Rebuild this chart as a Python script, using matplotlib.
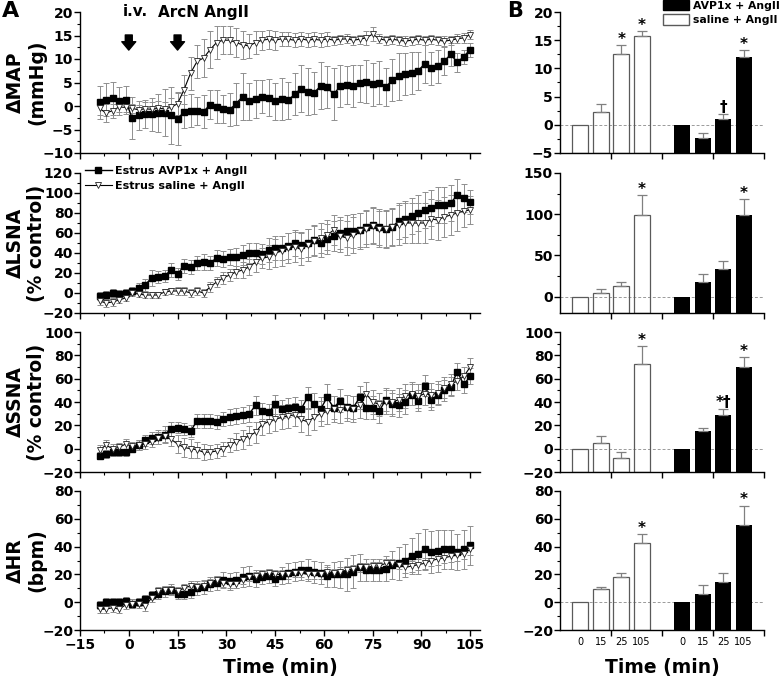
import matplotlib.pyplot as plt
import numpy as np
from matplotlib.ticker import MultipleLocator
from matplotlib.patches import Patch

plt.rcParams['font.family'] = 'DejaVu Sans'
plt.rcParams['font.weight'] = 'bold'
plt.rcParams['axes.linewidth'] = 1.0

# ---- A: time course (2-min bins) ----
time = np.arange(-9, 106, 2)

map_avp = [0.8, 1.3, 1.6, 1.1, 1.2, -2.5, -2.0, -1.7, -1.8, -1.5,
           -1.4, -2.0, -2.8, -1.2, -1.0, -1.0, -1.2, 0.3, -0.2, -0.6,
           -0.8, 0.5, 2.0, 1.0, 1.5, 2.0, 1.8, 1.0, 1.5, 1.2,
           2.5, 3.7, 3.0, 2.8, 4.3, 4.0, 2.5, 4.2, 4.5, 4.3,
           4.8, 5.2, 4.6, 5.0, 4.0, 5.5, 6.3, 6.8, 7.0, 7.5,
           9.0, 8.0, 8.5, 9.5, 11.0, 9.3, 10.5, 12.0]
map_avp_err = [3.5, 3.5, 3.5, 3.0, 3.0, 4.5, 3.0, 3.0, 3.5, 4.0,
               5.0, 6.0, 5.5, 3.5, 3.5, 3.0, 3.5, 3.0, 3.5, 3.0,
               3.5, 4.5, 5.0, 4.0, 4.0, 3.5, 4.0, 4.0, 4.5, 4.0,
               4.5, 5.0, 5.0, 4.5, 5.0, 4.5, 5.5, 4.5, 4.0, 4.5,
               4.0, 4.5, 4.5, 4.5, 4.0, 4.5, 5.0, 4.5, 4.5, 4.0,
               4.0, 3.5, 3.5, 3.0, 2.5, 2.0, 1.5, 1.5]
map_sal = [-0.5, -1.5, -1.0, -0.2, -0.3, -0.5, -0.8, -0.6, -0.7, -0.5,
           -0.6, -0.3, 0.5, 3.5, 7.0, 9.5, 10.2, 12.0, 13.5, 14.0,
           14.0, 13.5, 13.0, 12.8, 13.5, 14.0, 14.2, 14.0, 14.3, 14.2,
           14.0, 14.3, 14.0, 14.2, 14.0, 14.3, 14.0, 14.2, 14.3, 14.0,
           14.2, 14.5, 15.3, 14.3, 14.0, 14.2, 14.0, 13.8, 14.0, 14.2,
           14.0, 14.2, 14.0, 13.8, 14.0, 14.3, 14.5, 15.2]
map_sal_err = [1.5, 2.0, 1.5, 1.0, 1.0, 1.0, 1.0, 1.5, 1.5, 1.5,
               1.5, 2.0, 2.5, 3.0, 3.5, 3.5, 4.0, 4.0, 3.5, 3.0,
               3.0, 3.0, 3.0, 2.5, 2.5, 2.0, 2.0, 2.0, 1.5, 1.5,
               1.5, 1.5, 1.5, 1.5, 1.5, 1.5, 1.0, 1.0, 1.0, 1.0,
               1.0, 1.5, 1.5, 1.0, 1.0, 1.0, 1.0, 1.0, 1.0, 1.0,
               1.0, 1.0, 1.0, 1.0, 1.0, 1.0, 1.0, 1.0]

lsna_avp = [-3, -2, 0, -1, 0, 2, 5, 8, 15, 16,
            17, 23, 19, 27, 26, 30, 31, 30, 35, 34,
            36, 36, 38, 40, 40, 39, 43, 45, 45, 47,
            50, 48, 50, 53, 50, 54, 57, 60, 62, 62,
            63, 66, 68, 66, 64, 66, 72, 74, 77, 80,
            83, 85, 88, 88, 90, 98, 95, 91]
lsna_avp_err = [4, 4, 4, 4, 4, 4, 5, 6, 8, 6,
                6, 7, 6, 7, 7, 7, 8, 7, 8, 8,
                8, 9, 10, 10, 10, 10, 12, 12, 12, 13,
                13, 13, 14, 15, 14, 15, 15, 16, 16, 17,
                17, 17, 18, 18, 18, 18, 18, 18, 18, 18,
                18, 18, 18, 18, 18, 16, 14, 12]
lsna_sal = [-8, -10, -9, -7, -5, 0, -1, -2, -2, -2,
            1, 2, 2, 2, 0, 2, 0, 6, 11, 15,
            18, 21, 23, 26, 31, 35, 36, 40, 42, 45,
            46, 44, 48, 52, 55, 58, 63, 57, 55, 58,
            62, 64, 67, 64, 64, 66, 68, 70, 70, 70,
            70, 74, 73, 76, 78, 80, 82, 83]
lsna_sal_err = [4, 4, 4, 3, 3, 3, 3, 3, 3, 3,
                3, 3, 4, 4, 4, 4, 4, 5, 5, 6,
                6, 6, 8, 8, 10, 10, 12, 14, 15, 15,
                15, 16, 16, 15, 15, 15, 15, 16, 17, 18,
                18, 18, 18, 18, 19, 19, 20, 20, 20, 20,
                20, 20, 20, 20, 20, 18, 16, 14]

ssna_avp = [-6, -5, -3, -3, -3, 0, 3, 7, 9, 10,
            12, 17, 18, 17, 15, 24, 24, 24, 23, 25,
            27, 28, 29, 30, 37, 32, 31, 38, 34, 35,
            36, 34, 44, 38, 34, 44, 35, 41, 36, 35,
            44, 35, 35, 32, 42, 38, 37, 40, 46, 41,
            54, 42, 46, 50, 53, 66, 55, 62]
ssna_avp_err = [3, 3, 3, 3, 3, 3, 4, 5, 5, 6,
                7, 6, 5, 5, 5, 6, 6, 6, 6, 6,
                7, 7, 7, 7, 8, 7, 7, 8, 8, 8,
                8, 8, 9, 10, 10, 11, 10, 10, 10, 10,
                10, 10, 10, 10, 10, 10, 10, 10, 9, 9,
                9, 9, 9, 9, 8, 7, 7, 7]
ssna_sal = [-1, 3, 0, 1, 4, 2, 3, 4, 6, 9,
            11, 8, 4, 1, 0, -1, -3, -3, -2, 0,
            3, 6, 8, 11, 14, 21, 23, 25, 27, 28,
            29, 25, 23, 27, 30, 32, 34, 33, 35, 34,
            37, 47, 40, 38, 40, 40, 42, 45, 47, 45,
            47, 46, 48, 52, 55, 58, 62, 70]
ssna_sal_err = [4, 4, 4, 4, 4, 4, 4, 4, 5, 5,
                5, 6, 8, 8, 8, 7, 7, 6, 6, 6,
                6, 7, 8, 8, 9, 9, 10, 10, 10, 10,
                10, 11, 11, 11, 11, 11, 11, 11, 11, 11,
                11, 10, 10, 10, 10, 10, 10, 10, 10, 10,
                10, 10, 10, 9, 9, 8, 8, 8]

hr_avp = [-2, 0, 0, 0, 1, -1, 0, 2, 5, 6,
          8, 9, 6, 6, 7, 10, 11, 13, 14, 16,
          15, 16, 18, 19, 17, 18, 19, 17, 19, 21,
          22, 23, 23, 22, 21, 19, 20, 20, 20, 22,
          25, 23, 23, 23, 24, 27, 28, 30, 33, 35,
          38, 36, 37, 38, 38, 36, 38, 41]
hr_avp_err = [3, 3, 3, 3, 3, 3, 3, 3, 3, 4,
              4, 4, 4, 4, 4, 5, 5, 5, 5, 6,
              6, 6, 7, 7, 6, 5, 5, 5, 6, 7,
              7, 7, 8, 8, 8, 8, 9, 10, 12, 12,
              10, 8, 8, 8, 9, 10, 12, 12, 13, 15,
              15, 15, 15, 14, 14, 13, 14, 14]
hr_sal = [-5, -5, -4, -5, -2, -1, -1, -3, 3, 8,
          9, 9, 8, 10, 12, 11, 12, 14, 16, 14,
          13, 13, 16, 18, 19, 20, 21, 20, 20, 20,
          21, 21, 20, 20, 20, 22, 21, 22, 23, 24,
          25, 25, 26, 26, 28, 28, 27, 25, 26, 27,
          28, 30, 31, 32, 33, 34, 35, 38]
hr_sal_err = [3] * 47 + [4] * 11

# ---- B: summary bars ----
bar_labels = ['0', '15', '25', '105']
map_bar_sal = [0, 2.3, 12.6, 15.7]
map_bar_sal_err = [0, 1.4, 1.5, 0.9]
map_bar_avp = [0, -2.3, 1.0, 12.0]
map_bar_avp_err = [0, 0.8, 1.0, 1.2]
map_sig_sal = ['', '', '*', '*']
map_sig_avp = ['', '', '\u2020', '*']

lsna_bar_sal = [0, 4.1, 12.7, 99.5]
lsna_bar_sal_err = [0, 4.9, 4.9, 23.5]
lsna_bar_avp = [0, 18, 33, 99.5]
lsna_bar_avp_err = [0, 9.5, 10, 19]
lsna_sig_sal = ['', '', '', '*']
lsna_sig_avp = ['', '', '', '*']

ssna_bar_sal = [0, 5.1, -8, 72.6]
ssna_bar_sal_err = [0, 5.8, 5.4, 15]
ssna_bar_avp = [0, 15.4, 28.6, 70]
ssna_bar_avp_err = [0, 2.6, 5.7, 8.6]
ssna_sig_sal = ['', '', '', '*']
ssna_sig_avp = ['', '', '*\u2020', '*']

hr_bar_sal = [0, 9.5, 17.9, 42.6]
hr_bar_sal_err = [0, 1.2, 2.8, 6.2]
hr_bar_avp = [0, 6, 14.5, 55.5]
hr_bar_avp_err = [0, 6.4, 6.4, 14]
hr_sig_sal = ['', '', '', '*']
hr_sig_avp = ['', '', '', '*']

pos_sal = np.array([1, 2, 3, 4])
pos_avp = np.array([6, 7, 8, 9])

W, H = 780, 678
fig = plt.figure(figsize=(W / 100, H / 100), dpi=100)

# panel rows: (top px, bottom px)
rows = [(12, 153), (173, 313), (332, 472), (491, 630)]


def add_ax(x0, x1, top, bottom):
    return fig.add_axes([x0 / W, (H - bottom) / H, (x1 - x0) / W, (bottom - top) / H])


def style(ax, ylim, ystep):
    for s in ['top', 'right']:
        ax.spines[s].set_visible(False)
    ax.set_ylim(*ylim)
    ax.yaxis.set_major_locator(MultipleLocator(ystep))
    ax.yaxis.set_minor_locator(MultipleLocator(ystep / 2))
    ax.tick_params(which='major', direction='out', length=4, width=1, labelsize=10, pad=1)
    ax.tick_params(which='minor', direction='out', length=2.5, width=0.8)


def time_label(ax):
    ax.set_xlabel('Time (min)', fontsize=13.5, fontweight='bold', va='baseline')
    ax.xaxis.set_label_coords(0.5, -(673 - 630) / 139)


# ---- left column ----
left_data = [
    (map_avp, map_avp_err, map_sal, map_sal_err, (-10, 20), 5, '\u0394MAP\n(mmHg)'),
    (lsna_avp, lsna_avp_err, lsna_sal, lsna_sal_err, (-20, 120), 20, '\u0394LSNA\n(% control)'),
    (ssna_avp, ssna_avp_err, ssna_sal, ssna_sal_err, (-20, 100), 20, '\u0394SSNA\n(% control)'),
    (hr_avp, hr_avp_err, hr_sal, hr_sal_err, (-20, 80), 20, '\u0394HR\n(bpm)'),
]

left_axes = []
for i, (avp, avp_err, sal, sal_err, ylim, ystep, ylab) in enumerate(left_data):
    ax = add_ax(80, 480, *rows[i])
    ax.errorbar(time, avp, yerr=avp_err, fmt='none', ecolor='#8f8f8f',
                elinewidth=0.7, capsize=2, capthick=0.7, zorder=1)
    ax.errorbar(time, sal, yerr=sal_err, fmt='none', ecolor='#8f8f8f',
                elinewidth=0.7, capsize=2, capthick=0.7, zorder=1)
    l1, = ax.plot(time, avp, '-s', color='black', ms=3.8, lw=1, zorder=3,
                  label='Estrus AVP1x + AngII')
    l2, = ax.plot(time, sal, '-v', color='black', mfc='white', mec='#222222',
                  mew=0.6, ms=5, lw=0.8, zorder=4, label='Estrus saline + AngII')
    style(ax, ylim, ystep)
    ax.set_xlim(-15, 108)
    ax.set_xticks(np.arange(-15, 106, 15))
    ax.xaxis.set_minor_locator(MultipleLocator(7.5))
    ax.set_ylabel(ylab, fontsize=13.5, fontweight='bold', linespacing=1.15)
    ax.yaxis.set_label_coords(-0.085, 0.5)
    if i < 3:
        ax.tick_params(axis='x', which='both', labelbottom=False)
    else:
        ax.tick_params(axis='x', pad=2)
        time_label(ax)
    left_axes.append(ax)
    if i == 1:
        ax.legend(handles=[l1, l2], loc='upper left', bbox_to_anchor=(85 / W, (H - 166) / H),
                  bbox_transform=fig.transFigure, frameon=False, fontsize=8,
                  handlelength=2.4, handletextpad=0.3, labelspacing=0.45,
                  borderpad=0, borderaxespad=0, numpoints=1)

# annotations on MAP panel
ax0 = left_axes[0]
trans = ax0.get_xaxis_transform()
ax0.text(-2, 1.0, 'i.v.', transform=trans, ha='left', va='center', fontsize=11)
ax0.text(9, 1.0, 'ArcN AngII', transform=trans, ha='left', va='center', fontsize=11)
for tx in [0, 15]:
    ax0.annotate('', xy=(tx, 0.73), xytext=(tx, 0.837), xycoords=trans, textcoords=trans,
                 arrowprops=dict(arrowstyle='simple,head_length=0.6,head_width=1.0,tail_width=0.5',
                                 color='black', mutation_scale=10, shrinkA=0, shrinkB=0))

# ---- right column ----
right_data = [
    (map_bar_sal, map_bar_sal_err, map_bar_avp, map_bar_avp_err, map_sig_sal, map_sig_avp, (-5, 20), 5),
    (lsna_bar_sal, lsna_bar_sal_err, lsna_bar_avp, lsna_bar_avp_err, lsna_sig_sal, lsna_sig_avp, (-20, 150), 50),
    (ssna_bar_sal, ssna_bar_sal_err, ssna_bar_avp, ssna_bar_avp_err, ssna_sig_sal, ssna_sig_avp, (-20, 100), 20),
    (hr_bar_sal, hr_bar_sal_err, hr_bar_avp, hr_bar_avp_err, hr_sig_sal, hr_sig_avp, (-20, 80), 20),
]

right_axes = []
for i, (sal, sal_err, avp, avp_err, sig_sal, sig_avp, ylim, ystep) in enumerate(right_data):
    ax = add_ax(560, 764, *rows[i])
    ylo = ylim[0]
    ax.axhline(0, color='#9a9a9a', lw=0.7, ls=(0, (3, 2)), zorder=0)
    ax.bar(pos_sal, np.array(sal) - ylo, bottom=ylo, width=0.78, facecolor='none',
           edgecolor='#5a5a5a', lw=0.9, zorder=2)
    ax.bar(pos_avp, np.array(avp) - ylo, bottom=ylo, width=0.78, color='black', zorder=2)
    for pos, vals, errs, sig in [(pos_sal, sal, sal_err, sig_sal), (pos_avp, avp, avp_err, sig_avp)]:
        vals = np.array(vals, dtype=float)
        errs = np.array(errs, dtype=float)
        has = errs > 0
        ax.errorbar(pos[has], vals[has], yerr=[np.zeros(has.sum()), errs[has]], fmt='none',
                    ecolor='#808080', elinewidth=0.9, capsize=3.5, capthick=0.9, zorder=3)
        for p, v, e, s in zip(pos, vals, errs, sig):
            if s:
                ax.annotate(s, xy=(p, v + e), xytext=(0, 1), textcoords='offset points',
                            ha='center', va='baseline', fontsize=11, fontweight='bold')
    style(ax, ylim, ystep)
    ax.set_xlim(0, 10)
    ax.set_xticks(np.concatenate([pos_sal, pos_avp]), bar_labels + bar_labels)
    ax.set_xticks([2.5, 5, 7.5, 10], minor=True)
    ax.tick_params(axis='x', which='major', length=0, labelsize=7, pad=5)
    ax.tick_params(axis='x', which='minor', length=4, width=1)
    for lab in ax.get_xticklabels():
        lab.set_fontweight('normal')
    if i < 3:
        ax.tick_params(axis='x', which='major', labelbottom=False)
    else:
        time_label(ax)
    right_axes.append(ax)

right_axes[0].legend(handles=[Patch(facecolor='black', edgecolor='black', label='AVP1x + AngII'),
                              Patch(facecolor='white', edgecolor='#5a5a5a', label='saline + AngII')],
                     loc='upper left', bbox_to_anchor=(663 / W, 1.0), bbox_transform=fig.transFigure,
                     frameon=False, fontsize=7.8, handlelength=2.4, handleheight=1.1,
                     handletextpad=0.4, labelspacing=0.3, borderpad=0, borderaxespad=0)

fig.text(0.002, 0.998, 'A', fontsize=16, fontweight='bold', ha='left', va='top')
fig.text(507 / W, 0.998, 'B', fontsize=15, fontweight='bold', ha='left', va='top')

fig.savefig('out.png', dpi=100)
